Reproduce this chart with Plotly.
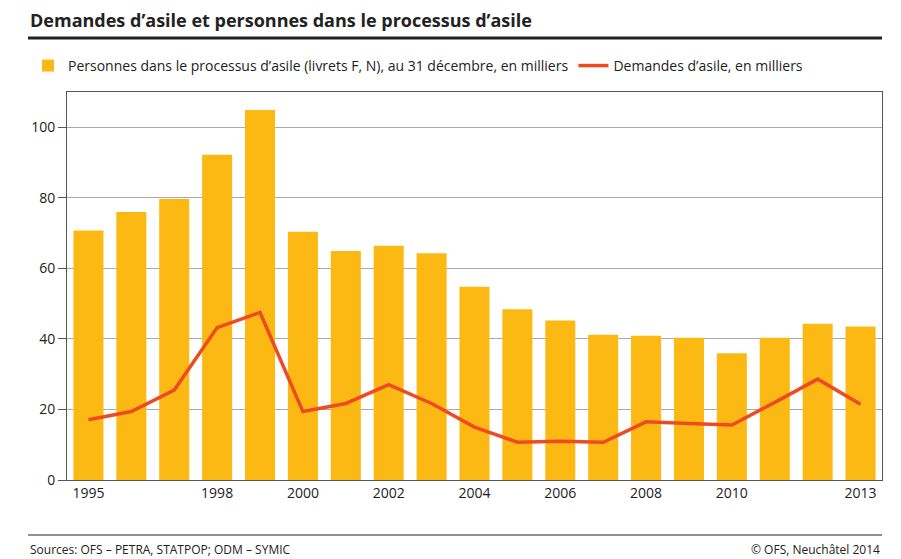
import plotly.graph_objects as go

years = list(range(1995, 2014))
personnes = [70.7, 76.0, 79.7, 92.2, 104.9, 70.4, 64.9, 66.4, 64.3, 54.8, 48.4, 45.2, 41.2, 40.9, 40.3, 35.9, 40.3, 44.3, 43.5]
demandes = [17.1, 19.4, 25.5, 43.2, 47.5, 19.4, 21.7, 27.0, 21.7, 15.0, 10.7, 11.0, 10.7, 16.5, 16.0, 15.6, 22.0, 28.6, 21.5]
tick_years = [1995, 1998, 2000, 2002, 2004, 2006, 2008, 2010, 2013]

font = "Open Sans, Lato, sans-serif"
W, H = 893, 551
L, R, T, B = 59, 19, 84, 79
pw, ph = W - L - R, H - T - B
x0p = -(L - 20) / pw

fig = go.Figure()
fig.add_bar(x=years, y=personnes, marker_color="#FDB913", marker_line_width=0,
            name="Personnes dans le processus d’asile (livrets F, N), au 31 décembre, en milliers")
fig.add_scatter(x=years, y=demandes, mode="lines", line=dict(color="#EE4B23", width=3.5),
                name="Demandes d’asile, en milliers")

fig.update_layout(
    width=W, height=H, margin=dict(l=L, r=R, t=T, b=B),
    paper_bgcolor="white", plot_bgcolor="white", bargap=0.3,
    font=dict(family=font, size=14, color="#222"),
    showlegend=True,
    legend=dict(orientation="h", x=x0p, y=1 + 26 / ph, xanchor="left", yanchor="middle",
                bgcolor="rgba(0,0,0,0)", font=dict(size=14), traceorder="normal"),
    xaxis=dict(range=[1994.5, 2013.5], tickvals=tick_years, ticks="", showgrid=False,
               showline=True, linecolor="#555", mirror=True, tickfont=dict(size=14)),
    yaxis=dict(range=[0, 110], tickvals=[0, 20, 40, 60, 80, 100], showgrid=True,
               gridcolor="#aaa", gridwidth=1, showline=True, linecolor="#555", mirror=True,
               ticks="outside", ticklen=8, tickcolor="#555", tickfont=dict(size=14), zeroline=False),
    annotations=[
        dict(text="<b>Demandes d’asile et personnes dans le processus d’asile</b>", xref="paper", yref="paper",
             x=x0p, y=1.0, xanchor="left", yanchor="bottom", yshift=58, showarrow=False, font=dict(size=18, color="#222")),
        dict(text="Sources: OFS – PETRA, STATPOP; ODM – SYMIC", xref="paper", yref="paper",
             x=x0p, y=0, xanchor="left", yanchor="middle", yshift=-69, showarrow=False, font=dict(size=12)),
        dict(text="© OFS, Neuchâtel 2014", xref="paper", yref="paper",
             x=1, y=0, xanchor="right", yanchor="middle", yshift=-69, showarrow=False, font=dict(size=12)),
    ],
    shapes=[
        dict(type="line", xref="paper", yref="paper", x0=x0p, x1=1.0, y0=1 + 54 / ph, y1=1 + 54 / ph,
             line=dict(color="#222", width=3)),
        dict(type="line", xref="paper", yref="paper", x0=x0p, x1=1.0, y0=-55 / ph, y1=-55 / ph,
             line=dict(color="#222", width=1)),
    ],
)
fig.write_html("out.html")
